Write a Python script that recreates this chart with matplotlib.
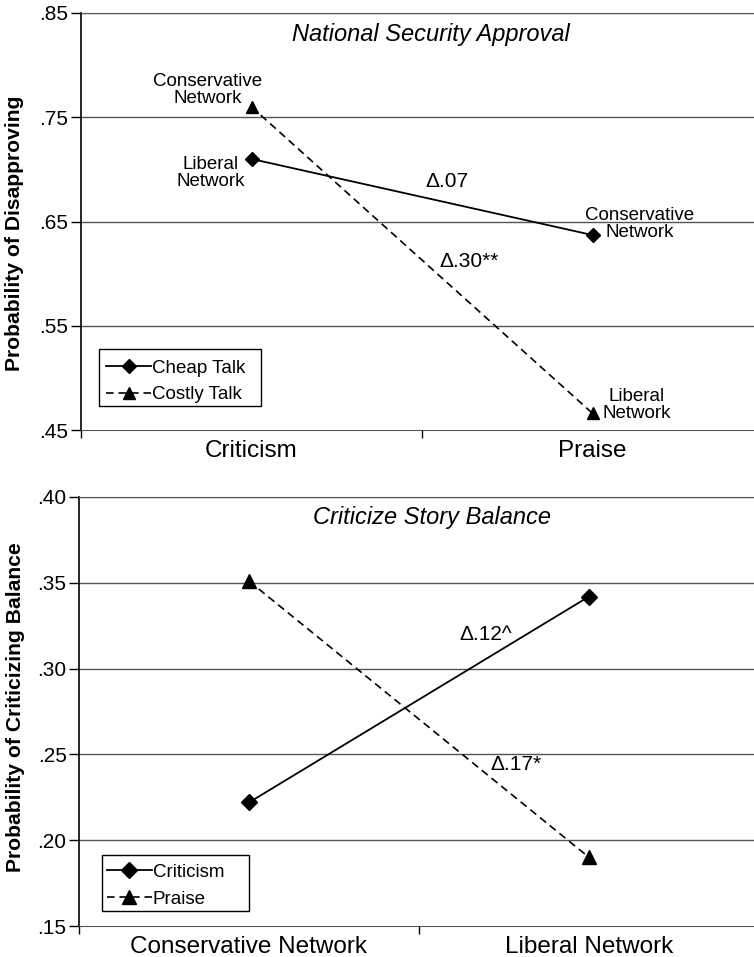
import matplotlib
matplotlib.use("Agg")
import matplotlib.pyplot as plt
from matplotlib.patches import Rectangle

plt.rcParams['font.family'] = ['Liberation Sans', 'DejaVu Sans']
plt.rcParams['lines.scale_dashes'] = False

# ---- data ----
top_categories = ["Criticism", "Praise"]
top_cheap = [0.710, 0.637]     # Cheap Talk
top_costly = [0.760, 0.466]    # Costly Talk
top_yticks = [0.45, 0.55, 0.65, 0.75, 0.85]
top_yticklabels = [".45", ".55", ".65", ".75", ".85"]

bot_categories = ["Conservative Network", "Liberal Network"]
bot_criticism = [0.222, 0.342]
bot_praise = [0.351, 0.190]
bot_yticks = [0.15, 0.20, 0.25, 0.30, 0.35, 0.40]
bot_yticklabels = [".15", ".20", ".25", ".30", ".35", ".40"]

W, H = 754, 957
fig = plt.figure(figsize=(W / 100, H / 100), dpi=100)

GRID = '#555555'
DASH = (5.5, 3.5)


def style_axes(ax, cats, yticks, yticklabels, ylabel):
    ax.set_xlim(-0.5, 1.5)
    ax.set_ylim(yticks[0], yticks[-1])
    ax.set_xticks([0, 1])
    ax.set_xticklabels(cats, fontsize=17.5)
    ax.tick_params(axis='x', which='major', length=0, pad=7)
    ax.set_xticks([-0.5, 0.5], minor=True)
    ax.tick_params(axis='x', which='minor', length=6, width=1, direction='out')
    ax.set_yticks(yticks)
    ax.set_yticklabels(yticklabels, fontsize=15)
    ax.tick_params(axis='y', length=7, width=1, direction='out', pad=2)
    for y in yticks[1:]:
        ax.axhline(y, color=GRID, lw=1.0, zorder=1)
    ax.spines['right'].set_visible(False)
    ax.spines['top'].set_color(GRID)
    ax.spines['bottom'].set_color(GRID)
    ax.spines['left'].set_color('black')
    ax.spines['left'].set_linewidth(1.2)
    ax.set_ylabel(ylabel, fontsize=15.2, fontweight='bold')


def legend_box(ax, x0, y0, x1, y1):
    ax.add_patch(Rectangle((x0, y0), x1 - x0, y1 - y0, transform=ax.transAxes,
                           facecolor='white', edgecolor='black', lw=1.0,
                           zorder=4))


def legend(ax, anchor):
    leg = ax.legend(loc='lower left', bbox_to_anchor=anchor, fontsize=13.5,
                    frameon=False, handlelength=2.4, handletextpad=0.05,
                    borderpad=0, labelspacing=0.5, borderaxespad=0)
    leg.set_zorder(5)
    return leg


x = [0, 1]

# ---------------- top panel ----------------
ax1 = fig.add_axes([81 / W, 1 - 430 / H, 682 / W, 417 / H])
style_axes(ax1, top_categories, top_yticks, top_yticklabels,
           "Probability of Disapproving")
ax1.plot(x, top_cheap, color='black', lw=1.3, marker='D', ms=7.0,
         label='Cheap Talk', zorder=3)
ax1.plot(x, top_costly, color='black', lw=1.2, marker='^', ms=9,
         dashes=DASH, label='Costly Talk', zorder=3)
ax1.yaxis.set_label_coords(-0.083, 0.472)

ax1.text(0.526, 0.829, "National Security Approval", style='italic',
         fontsize=17, ha='center', va='center')
ax1.annotate("Conservative\nNetwork", (0, top_costly[0]), xytext=(-44, 17),
             textcoords='offset pixels', ha='center', va='center',
             fontsize=13.5, linespacing=1.0)
ax1.annotate("Liberal\nNetwork", (0, top_cheap[0]), xytext=(-41, -14),
             textcoords='offset pixels', ha='center', va='center',
             fontsize=13.5, linespacing=1.0)
ax1.annotate("Conservative\nNetwork", (1, top_cheap[1]), xytext=(47, 11),
             textcoords='offset pixels', ha='center', va='center',
             fontsize=13.5, linespacing=1.0)
ax1.annotate("Liberal\nNetwork", (1, top_costly[1]), xytext=(44, 8),
             textcoords='offset pixels', ha='center', va='center',
             fontsize=13.5, linespacing=1.0)
ax1.text(0.573, 0.688, "\u0394.07", fontsize=15, ha='center', va='center')
ax1.text(0.637, 0.612, "\u0394.30**", fontsize=15, ha='center', va='center')

legend_box(ax1, 0.0264, 0.0576, 0.264, 0.194)
legend(ax1, (0.037, 0.064))

# ---------------- bottom panel ----------------
ax2 = fig.add_axes([79 / W, 1 - 926 / H, 680 / W, 429 / H])
style_axes(ax2, bot_categories, bot_yticks, bot_yticklabels,
           "Probability of Criticizing Balance")
ax2.plot(x, bot_criticism, color='black', lw=1.3, marker='D', ms=8.5,
         label='Criticism', zorder=3)
ax2.plot(x, bot_praise, color='black', lw=1.2, marker='^', ms=10,
         dashes=DASH, label='Praise', zorder=3)
ax2.yaxis.set_label_coords(-0.080, 0.51)

ax2.text(0.538, 0.388, "Criticize Story Balance", style='italic',
         fontsize=17, ha='center', va='center')
ax2.text(0.697, 0.3196, "\u0394.12^", fontsize=15, ha='center', va='center')
ax2.text(0.785, 0.244, "\u0394.17*", fontsize=15, ha='center', va='center')

legend_box(ax2, 0.0338, 0.035, 0.25, 0.1655)
legend(ax2, (0.041, 0.043))

fig.savefig("out.png", dpi=100)
